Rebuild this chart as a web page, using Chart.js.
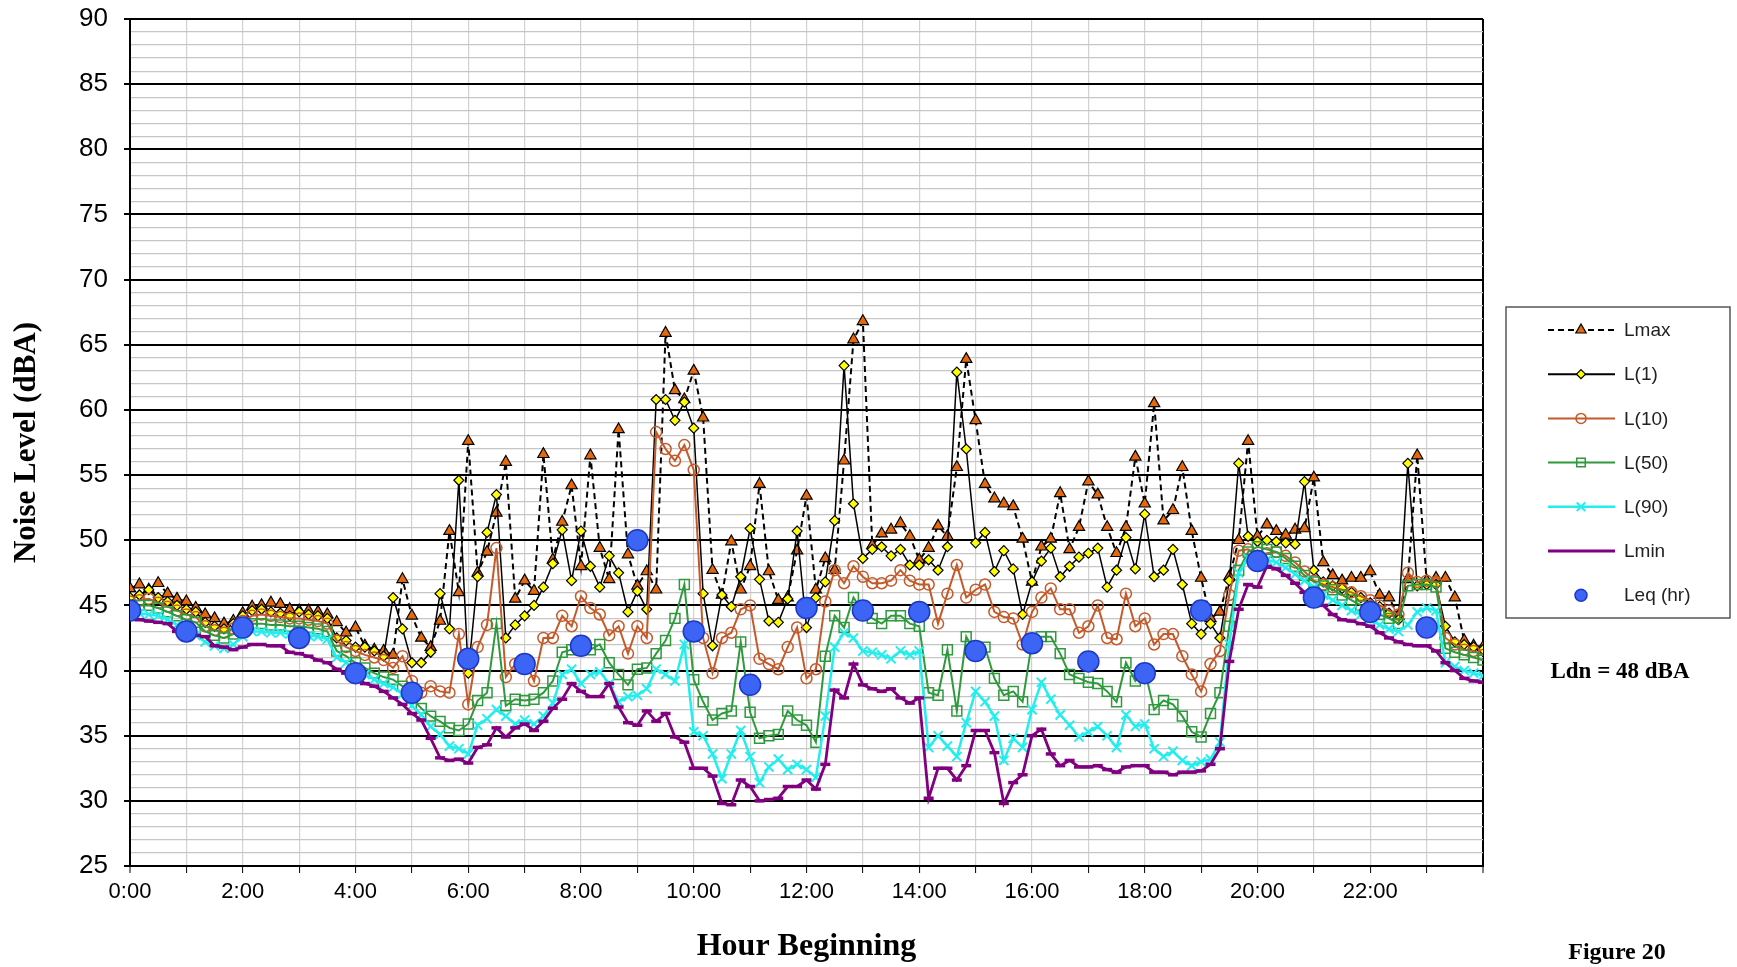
<!DOCTYPE html>
<html>
<head>
<meta charset="utf-8">
<script src="https://cdn.jsdelivr.net/npm/chart.js@4.4.1/dist/chart.umd.min.js"></script>
<style>
  html, body { margin: 0; padding: 0; background: #fff; }
  canvas { display: block; }
</style>
</head>
<body>
<canvas id="noiseChart" width="1737" height="967"></canvas>
<script>
// 10-minute readings from 0:00 to 24:00 (145 points per series)
const stepMinutes = 10;

const lmax = [46.3, 46.6, 46.2, 46.7, 45.9, 45.5, 45.3, 44.8, 44.3, 44.0, 43.6, 43.8, 44.4, 44.9, 45.0, 45.2, 45.1, 44.7,
  44.6, 44.6, 44.5, 44.3, 43.7, 42.9, 43.3, 41.9, 41.6, 41.5, 41.2, 47.0, 44.2, 42.5, 41.8, 43.8, 50.7, 46.0,
  57.6, 47.5, 49.1, 52.1, 56.0, 45.5, 46.9, 46.1, 56.6, 48.5, 51.4, 54.2, 48.0, 56.5, 49.4, 47.0, 58.5, 48.9,
  46.5, 47.6, 46.2, 65.9, 61.5, 60.8, 63.0, 59.4, 47.7, 45.8, 49.9, 46.2, 48.0, 54.3, 47.6, 45.4, 45.6, 49.2,
  53.4, 46.2, 48.6, 47.7, 56.1, 65.4, 66.8, 49.6, 50.5, 50.8, 51.3, 50.3, 48.5, 49.4, 51.1, 50.3, 55.6, 63.9,
  59.2, 54.3, 53.2, 52.8, 52.6, 50.1, 46.8, 49.5, 50.1, 53.6, 49.3, 51.0, 54.5, 53.5, 51.0, 49.0, 51.0, 56.4,
  52.8, 60.5, 51.5, 52.3, 55.6, 50.7, 47.1, 44.0, 44.5, 47.2, 50.0, 57.6, 50.3, 51.2, 50.7, 50.4, 50.8, 50.9,
  54.8, 48.3, 47.3, 46.9, 47.1, 47.1, 47.6, 45.8, 45.6, 44.2, 47.0, 56.5, 46.9, 47.1, 47.1, 45.6, 42.3, 41.9, 41.8];

const l1 = [45.6, 45.8, 46.2, 45.6, 45.3, 45.0, 44.7, 44.5, 43.7, 43.4, 43.2, 43.6, 44.2, 44.6, 44.7, 44.5, 44.4, 44.2,
  44.5, 44.3, 44.2, 44.0, 42.5, 42.3, 41.8, 41.8, 41.5, 41.1, 45.6, 43.2, 40.6, 40.6, 41.4, 45.9, 43.2, 54.6,
  39.8, 47.2, 50.6, 53.5, 42.5, 43.5, 44.2, 45.0, 46.4, 48.2, 50.8, 46.9, 50.7, 48.0, 46.4, 48.8, 47.5, 44.5,
  46.1, 44.7, 60.8, 60.8, 59.2, 60.6, 58.6, 45.9, 41.9, 45.8, 44.9, 47.2, 50.9, 47.0, 43.8, 43.7, 45.5, 50.7,
  43.3, 45.6, 46.8, 51.5, 63.4, 52.8, 48.6, 49.3, 49.5, 48.8, 49.3, 48.1, 48.1, 48.5, 47.7, 49.5, 62.9, 57.0,
  49.8, 50.6, 47.6, 49.2, 47.8, 44.3, 46.8, 48.4, 49.4, 47.2, 48.0, 48.7, 49.0, 49.4, 46.4, 47.7, 50.2, 47.8,
  52.0, 47.2, 47.7, 49.3, 46.6, 43.6, 42.8, 43.6, 42.5, 46.9, 55.9, 50.3, 49.9, 50.0, 49.9, 49.8, 49.7, 54.5,
  47.7, 46.8, 46.5, 46.3, 46.0, 45.6, 45.2, 44.9, 44.4, 43.9, 55.9, 46.5, 46.6, 46.6, 43.4, 42.2, 42.0, 41.8, 41.6];

const l10 = [45.3, 45.4, 45.5, 45.2, 44.9, 44.6, 44.3, 44.1, 43.4, 43.1, 42.9, 43.2, 43.8, 44.2, 44.3, 44.2, 44.1, 44.0,
  44.0, 43.9, 43.8, 43.6, 42.3, 41.8, 41.5, 41.2, 41.0, 40.8, 40.2, 41.1, 39.2, 38.3, 38.8, 38.4, 38.3, 42.8,
  37.4, 41.8, 43.5, 49.4, 39.5, 40.5, 40.8, 39.2, 42.5, 42.5, 44.2, 43.4, 45.7, 44.8, 44.3, 42.7, 43.4, 41.3,
  43.4, 42.5, 58.3, 57.0, 56.1, 57.3, 55.4, 42.5, 39.8, 42.5, 42.9, 44.7, 45.0, 40.9, 40.5, 40.1, 41.8, 43.3,
  39.4, 40.1, 45.3, 47.7, 46.7, 48.0, 47.2, 46.7, 46.7, 46.9, 47.7, 46.9, 46.6, 46.6, 43.6, 45.9, 48.1, 45.6,
  46.2, 46.6, 44.5, 44.1, 44.0, 42.0, 44.5, 45.6, 46.3, 44.7, 44.7, 42.9, 43.4, 45.0, 42.5, 42.4, 45.9, 43.4,
  44.0, 42.0, 42.8, 42.8, 41.1, 39.7, 38.4, 40.5, 41.5, 45.8, 49.2, 49.3, 48.8, 49.0, 49.1, 48.8, 48.3, 47.6,
  46.9, 46.6, 46.4, 46.2, 46.0, 45.7, 45.4, 45.0, 44.6, 44.3, 47.5, 46.8, 46.9, 46.8, 42.5, 42.0, 41.6, 41.5, 41.2];

const l50 = [45.0, 45.0, 45.0, 44.8, 44.5, 44.2, 43.9, 43.7, 43.0, 42.7, 42.5, 42.8, 43.3, 43.6, 43.6, 43.5, 43.5, 43.4,
  43.4, 43.3, 43.2, 43.0, 41.5, 41.1, 40.6, 40.2, 39.8, 39.5, 39.3, 38.8, 37.9, 37.1, 36.5, 36.1, 35.6, 35.4,
  35.9, 37.7, 38.3, 43.6, 37.3, 37.8, 37.7, 37.8, 38.3, 39.2, 41.4, 41.6, 42.0, 41.6, 42.0, 40.6, 39.7, 38.9,
  40.1, 40.2, 41.3, 42.3, 44.0, 46.6, 39.3, 37.6, 36.2, 36.7, 36.9, 42.2, 36.8, 34.8, 35.0, 35.1, 36.9, 36.2,
  35.8, 34.5, 41.1, 44.2, 43.3, 45.6, 44.5, 44.0, 43.6, 44.2, 44.2, 43.6, 43.4, 38.3, 38.1, 41.6, 36.9, 42.6,
  41.3, 41.8, 39.4, 38.1, 38.4, 37.6, 42.2, 42.6, 42.6, 41.3, 39.7, 39.4, 39.1, 39.0, 38.4, 37.6, 40.6, 39.2,
  40.0, 37.0, 37.7, 37.4, 36.5, 35.3, 34.9, 36.7, 38.3, 43.4, 47.7, 49.1, 49.5, 49.3, 49.1, 48.6, 48.0, 47.3,
  46.8, 46.5, 46.2, 45.8, 45.4, 45.0, 44.6, 44.3, 44.0, 43.6, 46.5, 46.6, 46.6, 46.4, 41.7, 41.4, 41.2, 41.0, 40.8];

const l90 = [44.5, 44.4, 44.3, 44.2, 43.9, 43.5, 43.0, 42.7, 42.2, 41.9, 41.7, 42.0, 42.6, 43.0, 43.0, 42.9, 42.9, 42.8,
  42.8, 42.7, 42.6, 42.4, 41.0, 40.6, 40.1, 39.7, 39.3, 39.0, 38.7, 38.2, 37.3, 36.6, 35.7, 35.1, 34.2, 34.0,
  33.6, 35.8, 36.3, 37.0, 36.5, 35.9, 36.2, 35.9, 36.5, 37.5, 39.7, 40.1, 39.0, 39.7, 39.9, 39.0, 37.6, 38.0,
  38.1, 38.6, 40.1, 39.7, 39.2, 42.0, 35.3, 35.0, 33.6, 31.7, 33.6, 35.4, 33.4, 31.4, 32.6, 33.2, 32.4, 32.8,
  32.4, 31.8, 36.5, 41.8, 42.9, 42.5, 41.5, 41.4, 41.2, 40.9, 41.5, 41.2, 41.5, 34.1, 35.0, 34.2, 33.4, 36.0,
  38.4, 37.6, 36.5, 33.1, 34.8, 34.1, 37.0, 39.1, 37.8, 36.6, 35.8, 34.9, 35.3, 35.7, 35.0, 34.1, 36.6, 35.7,
  35.9, 34.0, 33.4, 33.8, 33.1, 32.7, 33.0, 33.2, 34.5, 42.0, 47.5, 48.6, 48.6, 48.5, 48.3, 47.9, 47.4, 46.9,
  46.4, 45.8, 45.4, 45.0, 44.6, 44.3, 43.9, 43.5, 43.2, 43.0, 43.5, 44.5, 44.8, 44.6, 40.6, 40.3, 40.0, 39.8, 39.6];

const lmin = [44.0, 43.9, 43.8, 43.7, 43.6, 43.0, 42.9, 42.7, 42.6, 41.9, 41.8, 41.6, 41.8, 42.0, 42.0, 41.9, 41.9, 41.4,
  41.3, 41.1, 40.8, 40.6, 40.1, 39.8, 39.6, 39.0, 38.8, 38.4, 37.9, 37.4, 36.7, 36.2, 34.8, 33.3, 33.1, 33.2,
  32.9, 34.1, 34.3, 35.6, 34.9, 35.6, 35.9, 35.4, 36.1, 37.1, 37.8, 39.0, 38.4, 38.0, 38.0, 39.0, 37.2, 36.0,
  35.8, 36.9, 36.1, 36.7, 34.9, 34.5, 32.5, 32.5, 31.9, 29.8, 29.7, 31.6, 31.1, 30.0, 30.1, 30.2, 31.1, 31.1,
  31.6, 30.9, 32.8, 38.5, 37.9, 40.5, 38.9, 38.6, 38.4, 38.6, 37.9, 37.5, 37.9, 30.2, 32.5, 32.5, 31.6, 32.7,
  35.4, 35.4, 33.7, 29.8, 31.4, 32.0, 35.0, 35.5, 33.6, 32.7, 33.1, 32.6, 32.6, 32.7, 32.4, 32.2, 32.6, 32.7,
  32.7, 32.2, 32.2, 32.0, 32.2, 32.2, 32.3, 32.8, 34.0, 40.7, 44.7, 46.6, 46.4, 48.0, 47.8, 47.3, 46.7, 46.0,
  45.5, 45.0, 44.3, 43.9, 43.8, 43.6, 43.4, 42.9, 42.5, 42.2, 42.0, 41.9, 41.9, 41.5, 40.6, 40.0, 39.4, 39.2, 39.1];

// hourly Leq
const leqHours = [0, 1, 2, 3, 4, 5, 6, 7, 8, 9, 10, 11, 12, 13, 14, 15, 16, 17, 18, 19, 20, 21, 22, 23];
const leq = [44.6, 43.0, 43.3, 42.5, 39.8, 38.3, 40.9, 40.5, 41.9, 50.0, 43.0, 38.9,
  44.8, 44.6, 44.5, 41.5, 42.1, 40.7, 39.8, 44.6, 48.4, 45.6, 44.5, 43.3];

// tick labels
const xTickHours = [0, 2, 4, 6, 8, 10, 12, 14, 16, 18, 20, 22];
const xTickLabels = ['0:00', '2:00', '4:00', '6:00', '8:00', '10:00', '12:00', '14:00', '16:00', '18:00', '20:00', '22:00'];
const yTickLabels = [25, 30, 35, 40, 45, 50, 55, 60, 65, 70, 75, 80, 85, 90];

const legendOrder = ['Lmax', 'L(1)', 'L(10)', 'L(50)', 'L(90)', 'Lmin', 'Leq (hr)'];

function toPoints(values) {
  return values.map((v, i) => ({ x: i * stepMinutes / 60, y: v }));
}

const datasets = [
  {
    label: 'Leq (hr)', order: 0, showLine: false,
    data: leqHours.map((h, i) => ({ x: h, y: leq[i] })),
    pointStyle: 'circle', pointRadius: 10.5, pointBackgroundColor: '#3c64f5',
    pointBorderColor: '#1c38c8', pointBorderWidth: 1.5, legendRadius: 6
  },
  {
    label: 'Lmin', order: 1, data: toPoints(lmin),
    borderColor: '#800080', borderWidth: 2.8,
    pointStyle: 'line', pointRadius: 5, pointBorderColor: '#800080', pointBorderWidth: 3.5,
    legendRadius: 0
  },
  {
    label: 'L(90)', order: 2, data: toPoints(l90),
    borderColor: '#22eeee', borderWidth: 2.5,
    pointStyle: 'crossRot', pointRadius: 6.5, pointBorderColor: '#22eeee', pointBorderWidth: 2,
    legendRadius: 6
  },
  {
    label: 'L(50)', order: 3, data: toPoints(l50),
    borderColor: '#2f9a3c', borderWidth: 2,
    pointStyle: 'rect', pointRadius: 7, pointBackgroundColor: 'rgba(255,255,255,0)',
    pointBorderColor: '#2f9a3c', pointBorderWidth: 1.5, legendRadius: 6
  },
  {
    label: 'L(10)', order: 4, data: toPoints(l10),
    borderColor: '#c45a2a', borderWidth: 2,
    pointStyle: 'circle', pointRadius: 5.5, pointBackgroundColor: 'rgba(255,255,255,0)',
    pointBorderColor: '#c45a2a', pointBorderWidth: 1.5, legendRadius: 5
  },
  {
    label: 'L(1)', order: 5, data: toPoints(l1),
    borderColor: '#000', borderWidth: 1.5,
    pointStyle: 'rectRot', pointRadius: 5, pointBackgroundColor: '#ffff00',
    pointBorderColor: '#000', pointBorderWidth: 1.2, legendRadius: 4.5
  },
  {
    label: 'Lmax', order: 6, data: toPoints(lmax),
    borderColor: '#000', borderWidth: 2, borderDash: [6, 4],
    pointStyle: 'triangle', pointRadius: 6.5, pointBackgroundColor: '#e4690c',
    pointBorderColor: '#000', pointBorderWidth: 1.2, legendRadius: 6
  }
];

// simple fallback if helpers.drawPoint is not exposed
function fallbackPoint(ctx, o, x, y) {
  const r = o.radius;
  ctx.beginPath();
  if (o.pointStyle === 'triangle') {
    ctx.moveTo(x, y - r);
    ctx.lineTo(x + r * 0.866, y + r * 0.5);
    ctx.lineTo(x - r * 0.866, y + r * 0.5);
    ctx.closePath();
  } else if (o.pointStyle === 'rectRot') {
    ctx.moveTo(x, y - r); ctx.lineTo(x + r, y); ctx.lineTo(x, y + r); ctx.lineTo(x - r, y); ctx.closePath();
  } else if (o.pointStyle === 'rect') {
    const s = r * Math.SQRT1_2;
    ctx.rect(x - s, y - s, 2 * s, 2 * s);
  } else if (o.pointStyle === 'crossRot') {
    const s = r * Math.SQRT1_2;
    ctx.moveTo(x - s, y - s); ctx.lineTo(x + s, y + s);
    ctx.moveTo(x + s, y - s); ctx.lineTo(x - s, y + s);
  } else {
    ctx.arc(x, y, r, 0, Math.PI * 2);
  }
  ctx.fill();
  if (o.borderWidth > 0) ctx.stroke();
}

const sideNotes = {
  id: 'sideNotes',
  afterDraw(chart) {
    const ctx = chart.ctx;
    const drawPoint = (Chart.helpers && Chart.helpers.drawPoint) || fallbackPoint;
    ctx.save();

    // legend box
    ctx.strokeStyle = '#555';
    ctx.lineWidth = 1.5;
    ctx.strokeRect(1506, 307, 224, 311);

    legendOrder.forEach((label, k) => {
      const ds = chart.data.datasets.find(d => d.label === label);
      const y = 330 + k * 44.2;
      if (ds.showLine !== false) {
        ctx.beginPath();
        ctx.setLineDash(ds.borderDash || []);
        ctx.strokeStyle = ds.borderColor;
        ctx.lineWidth = Math.max(ds.borderWidth, 2);
        ctx.moveTo(1548, y);
        ctx.lineTo(1615, y);
        ctx.stroke();
        ctx.setLineDash([]);
      }
      if (ds.legendRadius > 0) {
        ctx.fillStyle = ds.pointBackgroundColor || 'rgba(0,0,0,0)';
        ctx.strokeStyle = ds.pointBorderColor;
        ctx.lineWidth = ds.pointBorderWidth;
        drawPoint(ctx, { pointStyle: ds.pointStyle, radius: ds.legendRadius, rotation: 0, borderWidth: ds.pointBorderWidth }, 1581, y);
      }
      ctx.fillStyle = '#222';
      ctx.font = '19px "Liberation Sans", Arial, sans-serif';
      ctx.textAlign = 'left';
      ctx.textBaseline = 'middle';
      ctx.fillText(label, 1624, y + 1);
    });

    ctx.fillStyle = '#000';
    ctx.textAlign = 'center';
    ctx.textBaseline = 'middle';
    ctx.font = 'bold 23px "Liberation Serif", "Times New Roman", serif';
    ctx.fillText('Ldn = 48 dBA', 1620, 672);
    ctx.font = 'bold 24px "Liberation Serif", "Times New Roman", serif';
    ctx.fillText('Figure 20', 1617, 953);
    ctx.restore();
  }
};

const isMajor = v => v % 5 === 0;

new Chart(document.getElementById('noiseChart'), {
  type: 'line',
  data: { datasets: datasets },
  options: {
    responsive: false,
    animation: false,
    devicePixelRatio: 1,
    layout: { padding: { left: 0, right: 254, top: 19, bottom: 0 } },
    elements: { line: { tension: 0 } },
    plugins: { legend: { display: false }, tooltip: { enabled: false } },
    scales: {
      x: {
        type: 'linear', min: 0, max: 24,
        afterFit(scale) {
          scale.height = 101;
          scale.paddingLeft = 0;
          scale.paddingRight = 0;
        },
        ticks: {
          stepSize: 1, autoSkip: false, maxRotation: 0, maxTicksLimit: 100, padding: 6,
          color: '#000',
          font: { family: '"Liberation Sans", Arial, sans-serif', size: 22 },
          callback: v => {
            const k = xTickHours.indexOf(v);
            return k >= 0 ? xTickLabels[k] : '';
          }
        },
        grid: {
          color: c => (c.tick && (c.tick.value === 0 || c.tick.value === 24)) ? '#000' : '#d2d2d2',
          lineWidth: c => (c.tick && (c.tick.value === 0 || c.tick.value === 24)) ? 2 : 1.2,
          tickColor: '#000', tickLength: 7, tickWidth: 1
        },
        border: { color: '#000', width: 2 },
        title: {
          display: true, text: 'Hour Beginning', color: '#000',
          font: { family: '"Liberation Serif", "Times New Roman", serif', size: 32, weight: 'bold' },
          padding: { top: 0, bottom: 1 }
        }
      },
      y: {
        min: 25, max: 90,
        afterFit(scale) {
          scale.width = 130;
          scale.paddingTop = 0;
          scale.paddingBottom = 0;
        },
        ticks: {
          stepSize: 1, autoSkip: false, maxTicksLimit: 100, padding: 16,
          color: '#000',
          font: { family: '"Liberation Sans", Arial, sans-serif', size: 26 },
          callback: v => yTickLabels.includes(v) ? String(v) : ''
        },
        grid: {
          color: c => (c.tick && isMajor(c.tick.value)) ? '#000' : '#c6c6c6',
          lineWidth: c => (c.tick && isMajor(c.tick.value)) ? 2 : 1.2,
          tickColor: c => (c.tick && isMajor(c.tick.value)) ? '#000' : 'rgba(0,0,0,0)',
          tickLength: 6
        },
        border: { color: '#000', width: 2 },
        title: {
          display: true, text: 'Noise Level (dBA)', color: '#000',
          font: { family: '"Liberation Serif", "Times New Roman", serif', size: 31, weight: 'bold' },
          padding: { top: 8, bottom: 0 }
        }
      }
    }
  },
  plugins: [sideNotes]
});
</script>
</body>
</html>
